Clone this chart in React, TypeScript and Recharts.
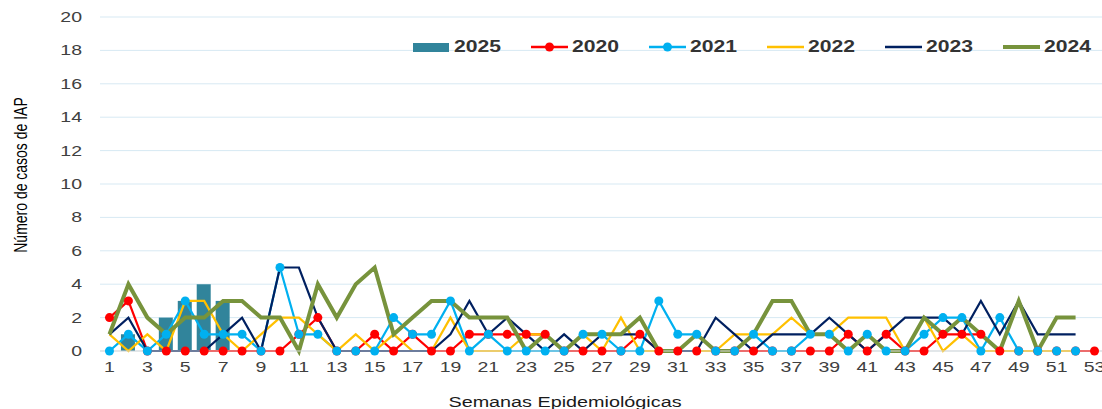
import { ComposedChart, Bar, Line, XAxis, YAxis, CartesianGrid } from "recharts";

const weeks = [
  1, 2, 3, 4, 5, 6, 7, 8, 9, 10, 11, 12, 13, 14, 15, 16, 17, 18, 19, 20,
  21, 22, 23, 24, 25, 26, 27, 28, 29, 30, 31, 32, 33, 34, 35, 36, 37, 38, 39, 40,
  41, 42, 43, 44, 45, 46, 47, 48, 49, 50, 51, 52, 53,
];

const cases2025 = [0, 1, 0, 2, 3, 4, 3];

const cases2020 = [
  2, 3, 0, 0, 0, 0, 0, 0, 0, 0, 1, 2, 0, 0, 1, 0, 1, 0, 0, 1,
  1, 1, 1, 1, 0, 0, 0, 0, 1, 0, 0, 0, 0, 0, 0, 0, 0, 0, 0, 1,
  0, 1, 0, 0, 1, 1, 1, 0, 0, 0, 0, 0, 0,
];

const cases2021 = [
  0, 1, 0, 1, 3, 1, 1, 1, 0, 5, 1, 1, 0, 0, 0, 2, 1, 1, 3, 0,
  1, 0, 0, 0, 0, 1, 1, 0, 0, 3, 1, 1, 0, 0, 1, 0, 0, 1, 1, 0,
  1, 0, 0, 1, 2, 2, 0, 2, 0, 0, 0, 0,
];

const cases2022 = [
  1, 0, 1, 0, 3, 3, 1, 0, 1, 2, 2, 1, 0, 1, 0, 1, 0, 0, 2, 0,
  0, 0, 1, 1, 0, 1, 0, 2, 0, 0, 0, 0, 0, 1, 1, 1, 2, 1, 1, 2,
  2, 2, 0, 2, 0, 1, 0, 0, 0, 0, 0, 0,
];

const cases2023 = [
  1, 2, 0, 0, 0, 0, 1, 2, 0, 5, 5, 2, 0, 0, 0, 0, 0, 0, 1, 3,
  1, 2, 1, 0, 1, 0, 1, 1, 1, 0, 0, 0, 2, 1, 0, 1, 1, 1, 2, 1,
  0, 1, 2, 2, 2, 1, 3, 1, 3, 1, 1, 1,
];

const cases2024 = [
  1, 4, 2, 1, 2, 2, 3, 3, 2, 2, 0, 4, 2, 4, 5, 1, 2, 3, 3, 2,
  2, 2, 0, 1, 0, 1, 1, 1, 2, 0, 0, 1, 0, 0, 1, 3, 3, 1, 1, 0,
  1, 0, 0, 2, 1, 2, 1, 0, 3, 0, 2, 2,
];

const yTicks = [0, 2, 4, 6, 8, 10, 12, 14, 16, 18, 20];

const data = weeks.map((w, i) => ({
  week: w,
  y2025: cases2025[i] ?? null,
  y2020: cases2020[i] ?? null,
  y2021: cases2021[i] ?? null,
  y2022: cases2022[i] ?? null,
  y2023: cases2023[i] ?? null,
  y2024: cases2024[i] ?? null,
}));

const FONT = "'Liberation Sans', Arial, sans-serif";

const legendItems = [
  { name: "2025", color: "#31849b", kind: "bar" },
  { name: "2020", color: "#ff0000", kind: "dot" },
  { name: "2021", color: "#00b0f0", kind: "dot" },
  { name: "2022", color: "#ffc000", kind: "line" },
  { name: "2023", color: "#002060", kind: "line" },
  { name: "2024", color: "#77933c", kind: "thick" },
];

function XTick({ x, y, payload }: any) {
  return (
    <text
      transform={`translate(${x},${y}) scale(1.3,1)`}
      textAnchor="middle"
      dy={11}
      fontSize={15}
      fill="#404040"
      fontFamily={FONT}
    >
      {payload.value}
    </text>
  );
}

function YTick({ x, y, payload }: any) {
  return (
    <text
      transform={`translate(${x},${y}) scale(1.3,1)`}
      textAnchor="end"
      dy={5}
      fontSize={15}
      fill="#404040"
      fontFamily={FONT}
    >
      {payload.value}
    </text>
  );
}

function LegendRow() {
  return (
    <div style={{ position: "absolute", top: 40, left: 413, display: "flex" }}>
      {legendItems.map((it) => (
        <div key={it.name} style={{ width: 118, height: 14, display: "flex", alignItems: "center" }}>
          <svg width={37} height={14}>
            {it.kind === "bar" ? (
              <rect x={0} y={3} width={36} height={9} fill={it.color} />
            ) : (
              <>
                <line x1={0} x2={37} y1={7} y2={7} stroke={it.color} strokeWidth={it.kind === "thick" ? 4 : 2.5} />
                {it.kind === "dot" && <circle cx={18.5} cy={7} r={4.5} fill={it.color} />}
              </>
            )}
          </svg>
          <span
            style={{
              marginLeft: 4,
              fontFamily: FONT,
              fontWeight: 700,
              fontSize: 16,
              color: "#333",
              display: "inline-block",
              transform: "scaleX(1.32)",
              transformOrigin: "left center",
              lineHeight: "14px",
            }}
          >
            {it.name}
          </span>
        </div>
      ))}
    </div>
  );
}

export default function App() {
  return (
    <div
      style={{
        position: "absolute",
        left: 0,
        top: 0,
        width: 1102,
        height: 409,
        overflow: "hidden",
        background: "#fff",
      }}
    >
      <ComposedChart
        width={1110}
        height={409}
        data={data}
        margin={{ top: 17, right: 6, bottom: 28, left: 0 }}
      >
        <CartesianGrid vertical={false} stroke="#d7e9f3" strokeWidth={1} />
        <XAxis
          dataKey="week"
          interval={1}
          height={30}
          tickLine={false}
          tickSize={0}
          tickMargin={10}
          axisLine={{ stroke: "#d9d9d9", strokeWidth: 1 }}
          tick={<XTick />}
        />
        <YAxis
          width={100}
          domain={[0, 20]}
          ticks={yTicks}
          axisLine={false}
          tickLine={false}
          tickSize={0}
          tickMargin={18}
          tick={<YTick />}
        />
        <Bar dataKey="y2025" fill="#31849b" barSize={14} isAnimationActive={false} />
        <Line
          dataKey="y2020"
          stroke="#ff0000"
          strokeWidth={2.2}
          dot={{ r: 4.5, fill: "#ff0000", stroke: "none" }}
          isAnimationActive={false}
        />
        <Line
          dataKey="y2021"
          stroke="#00b0f0"
          strokeWidth={2.2}
          dot={{ r: 4.5, fill: "#00b0f0", stroke: "none" }}
          isAnimationActive={false}
        />
        <Line dataKey="y2022" stroke="#ffc000" strokeWidth={2.2} dot={false} isAnimationActive={false} />
        <Line dataKey="y2023" stroke="#002060" strokeWidth={2.2} dot={false} isAnimationActive={false} />
        <Line dataKey="y2024" stroke="#77933c" strokeWidth={4} dot={false} isAnimationActive={false} />
      </ComposedChart>
      <svg
        width={1102}
        height={409}
        style={{ position: "absolute", left: 0, top: 0, pointerEvents: "none" }}
      >
        <text
          transform="translate(20,175) rotate(-90) scale(1,1.3)"
          textAnchor="middle"
          dy={5}
          fontSize={14}
          fill="#000"
          fontFamily={FONT}
        >
          Número de casos de IAP
        </text>
        <text
          transform="translate(565,407) scale(1.32,1)"
          textAnchor="middle"
          fontSize={15}
          fill="#1a1a1a"
          fontFamily={FONT}
        >
          Semanas Epidemiológicas
        </text>
      </svg>
      <LegendRow />
    </div>
  );
}
